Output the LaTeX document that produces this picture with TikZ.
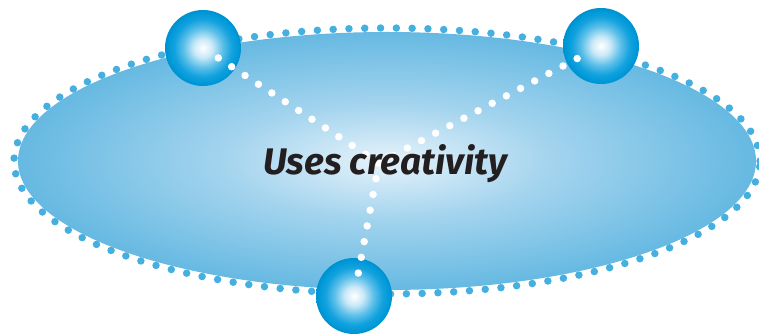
\documentclass[tikz,border=0pt]{standalone}
\usepackage{fontspec}
\newfontfamily\handfont{Fira Sans}
\definecolor{ringblue}{HTML}{45AFE0}
\definecolor{edgeblue}{HTML}{66B9E2}
\definecolor{midblue}{HTML}{A4D4EE}
\definecolor{centreblue}{HTML}{E6F3FB}
\definecolor{textblack}{HTML}{231F20}
\definecolor{ballA}{HTML}{CDEAF8}
\definecolor{ballB}{HTML}{5CBFE9}
\definecolor{ballC}{HTML}{13A2DE}
\definecolor{ballD}{HTML}{0099D9}
\definecolor{ballE}{HTML}{0090CE}
\pgfdeclareradialshading{glow}{\pgfpoint{0bp}{0bp}}{color(0bp)=(centreblue); color(11bp)=(midblue); color(25bp)=(edgeblue); color(50bp)=(edgeblue)}
\pgfdeclareradialshading{sphere}{\pgfpoint{0bp}{0bp}}{color(0bp)=(white); color(6bp)=(ballA); color(13bp)=(ballB); color(19bp)=(ballC); color(23bp)=(ballD); color(25bp)=(ballE); color(50bp)=(ballE)}
\begin{document}
\begin{tikzpicture}[x=1pt, y=1pt,
    ball/.style={circle, minimum size=76pt, inner sep=0pt, shade, shading=sphere},
    link/.style={white, line width=7.5pt, line cap=round, dash pattern=on 0pt off 16pt, shorten >=12pt}]
    \useasboundingbox (-387,-175) rectangle (372,161);
    % the cloud and its dotted rim
    \shade[shading=glow] (0,0) ellipse [x radius=369, y radius=129];
    \draw[ringblue, line width=7.5pt, line cap=round, dash pattern=on 0pt off 15.8pt] (0,0) ellipse [x radius=373, y radius=133];
    % the three balls
    \node[ball] (tl) at (-184,113) {};
    \node[ball] (tr) at (214,115) {};
    \node[ball] (bt) at (-33,-135) {};
    \coordinate (meet) at (-8,-2);
    \draw[link] (meet) -- (tl.center);
    \draw[link] (meet) -- (tr.center);
    \draw[link] (meet) -- (bt.center);
    \node[font=\handfont\bfseries\itshape\fontsize{37}{37}\selectfont, text=textblack] (label) at (-2,-3) {Uses creativity};
\end{tikzpicture}
\end{document}
